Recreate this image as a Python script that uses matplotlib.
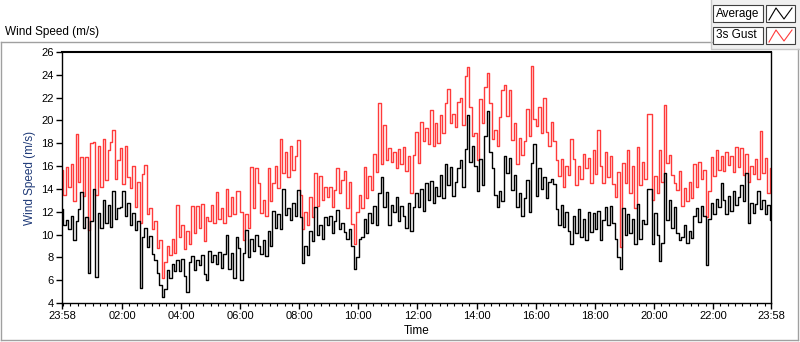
import matplotlib.pyplot as plt
from matplotlib.patches import Rectangle
from matplotlib.lines import Line2D

plt.rcParams['font.family'] = ['Liberation Sans', 'DejaVu Sans']

# 5-minute samples from 23:58 to 23:58 next day (12 per hour, + end point)
avg = [
    12.2, 10.8, 11.3, 10.5, 11.6, 9.5, 11.2, 12.2, 13.7, 10.6, 11.5, 6.6,
    11.2, 14.0, 6.3, 11.9, 10.6, 13.0, 11.0, 12.6, 10.7, 13.8, 11.4, 12.3,
    12.4, 13.8, 11.6, 12.8, 10.8, 11.9, 10.4, 11.2, 5.3, 9.8, 10.6, 8.9,
    9.9, 8.3, 7.8, 6.6, 5.6, 4.5, 5.2, 6.9, 6.2, 7.4, 6.8, 7.8,
    6.8, 7.9, 6.4, 5.0, 7.6, 8.1, 6.9, 7.8, 7.3, 8.2, 6.5, 6.0,
    8.6, 7.6, 8.2, 7.4, 8.5, 7.1, 8.3, 10.0, 7.0, 8.4, 6.2, 9.8,
    8.8, 6.0, 8.4, 10.4, 8.0, 9.6, 8.6, 10.0, 9.0, 8.3, 9.5, 8.1,
    10.3, 9.0, 12.1, 10.6, 11.8, 10.5, 14.0, 11.7, 12.3, 11.3, 12.8, 11.6,
    13.9, 11.5, 7.5, 9.0, 8.2, 10.3, 9.4, 12.4, 10.0, 10.8, 9.6, 11.5,
    10.8, 11.6, 10.1, 11.2, 12.15, 10.5, 11.0, 10.2, 9.6, 10.5, 9.0, 7.0,
    8.0, 9.6, 9.8, 11.4, 10.1, 11.9, 11.0, 12.5, 10.8, 13.6, 15.0, 12.4,
    13.7, 10.8, 12.6, 12.0, 13.3, 11.2, 12.5, 11.6, 10.6, 12.8, 10.3, 12.4,
    13.6, 12.4, 14.0, 12.1, 14.5, 13.0, 14.7, 12.8, 14.2, 13.4, 15.2, 13.2,
    16.2, 14.3, 15.9, 13.4, 14.6, 15.8, 16.5, 14.2, 17.5, 20.5, 16.4, 17.8,
    16.0, 13.8, 16.6, 14.3, 18.6, 20.8, 17.2, 15.8, 13.5, 12.4, 13.8, 12.9,
    16.9, 15.4, 16.7, 13.9, 15.2, 12.4, 13.6, 11.6, 13.2, 14.8, 12.0, 16.3,
    17.9, 13.4, 15.8, 14.0, 15.0, 13.2, 14.6, 14.9, 14.4, 12.2, 10.8, 12.6,
    10.7, 12.0, 10.3, 9.2, 11.6, 10.1, 12.2, 9.8, 11.4, 9.5, 12.0, 10.2,
    11.9, 10.5, 12.1, 9.5, 11.3, 12.4, 10.8, 12.5, 11.0, 9.6, 8.0, 7.0,
    12.3, 10.0, 11.8, 10.1, 11.4, 9.2, 12.7, 9.6, 11.3, 10.9, 14.0, 14.0,
    9.2, 11.9, 10.0, 7.7, 9.3, 15.4, 11.3, 13.0, 10.6, 12.4, 10.1, 9.5,
    9.8, 10.8, 9.3, 10.3, 9.7, 11.6, 12.3, 11.1, 12.5, 11.6, 7.3, 11.4,
    12.8, 11.8, 13.1, 12.4, 14.5, 13.0, 11.8, 13.4, 12.1, 13.8, 12.6, 13.3,
    14.3, 12.9, 15.4, 11.0, 12.8, 11.9, 12.7, 13.8, 12.2, 13.0, 11.8, 12.6,
    11.3,
]

gust = [
    15.7, 13.5, 15.9, 14.2, 16.2, 12.9, 18.8, 14.6, 16.8, 13.4, 16.8, 10.4,
    18.0, 18.1, 13.5, 17.8, 14.2, 18.4, 14.8, 17.4, 18.1, 19.2, 14.9, 16.5,
    17.6, 14.4, 17.8, 15.0, 14.1, 16.0, 12.4, 14.6, 11.0, 15.3, 16.1, 11.8,
    12.3, 10.5, 11.2, 8.8, 9.5, 6.2, 7.6, 9.0, 8.2, 9.6, 8.4, 12.6,
    9.8, 10.8, 8.7, 10.3, 9.2, 12.5, 10.1, 12.5, 10.6, 12.7, 9.4, 11.5,
    11.2, 12.6, 11.0, 13.75, 11.4, 12.3, 11.0, 14.0, 11.6, 13.3, 11.8, 13.8,
    13.8, 12.0, 9.5, 11.8, 10.6, 15.9, 12.3, 15.8, 14.5, 11.9, 13.0, 11.6,
    15.8, 12.9, 14.5, 16.0, 14.1, 18.4, 15.4, 17.2, 15.0, 17.8, 15.7, 16.9,
    18.3, 13.5, 10.5, 12.0, 10.8, 13.3, 11.5, 15.4, 12.5, 15.1, 13.0, 14.2,
    13.3, 14.2, 12.4, 13.9, 15.8, 13.6, 14.8, 15.6, 12.3, 14.6, 10.9, 9.2,
    12.0, 13.5, 12.3, 15.9, 13.2, 15.1, 13.9, 17.1, 15.5, 21.5, 16.2, 19.6,
    16.5, 17.6, 16.4, 17.2, 15.8, 17.5, 16.2, 17.7, 15.6, 16.9, 13.6, 17.0,
    19.0, 16.3, 19.9, 18.2, 19.3, 17.9, 20.9, 17.8, 19.8, 18.0, 20.5, 18.9,
    21.5, 22.8, 19.8, 20.6, 19.4, 21.6, 22.0, 19.6, 23.9, 24.7, 21.2, 18.6,
    18.9, 16.5, 21.9, 19.8, 22.9, 24.2, 21.5, 18.4, 19.2, 17.8, 20.3, 22.7,
    23.1, 20.4, 22.7, 18.3, 19.8, 16.2, 18.5, 17.0, 18.2, 21.0, 18.6, 24.8,
    20.1, 19.5, 21.2, 18.9, 22.0, 19.0, 17.8, 19.9, 18.2, 16.5, 15.1, 16.6,
    14.2, 16.0, 15.2, 18.4, 16.6, 14.3, 16.0, 14.9, 17.1, 15.8, 16.7, 14.5,
    17.4, 15.3, 19.2, 16.0, 14.5, 17.2, 15.0, 16.9, 14.4, 13.3, 15.5, 8.9,
    16.3, 14.5, 17.4, 13.6, 16.0, 12.3, 17.7, 14.3, 16.4, 14.9, 20.6, 20.6,
    13.0, 15.1, 13.6, 17.4, 14.6, 21.35, 16.3, 17.0, 15.2, 14.5, 13.9, 15.6,
    12.5, 14.1, 12.9, 14.6, 13.2, 16.2, 14.2, 16.4, 14.9, 15.7, 11.5, 13.8,
    16.8, 15.1, 17.4, 15.7, 16.9, 15.6, 17.2, 16.1, 16.9, 15.5, 17.7, 15.9,
    17.6, 15.2, 17.1, 14.6, 16.0, 15.3, 16.6, 14.9, 19.1, 15.4, 16.7, 13.6,
    15.8,
]

start = -2 / 60  # 23:58 on the previous day, in clock hours
times = [start + k * 5 / 60 for k in range(len(avg))]

major_ticks = [start] + list(range(2, 24, 2)) + [24 + start]
major_labels = ['23:58'] + ['%02d:00' % h for h in range(2, 24, 2)] + ['23:58']
minor_ticks = [q * 0.25 for q in range(96)]
y_ticks = list(range(4, 27, 2))

W, H = 800, 342


def fx(x):
    return x / W


def fy(y):
    return 1 - y / H


fig = plt.figure(figsize=(8, 3.42), dpi=100)
fig.patch.set_facecolor('white')

# outer frame and legend panel
fig.add_artist(Line2D([fx(0.5), fx(712)], [fy(42), fy(42)], color='#a0a0a0', lw=1))
fig.add_artist(Line2D([fx(0.5), fx(0.5)], [fy(42), fy(340)], color='#a0a0a0', lw=1))
fig.add_artist(Line2D([fx(0.5), fx(798)], [fy(340), fy(340)], color='#a0a0a0', lw=1))
fig.add_artist(Line2D([fx(798), fx(798)], [fy(49), fy(340)], color='#a0a0a0', lw=1))
fig.add_artist(Rectangle((fx(711), fy(49)), fx(800) - fx(711), fy(0) - fy(49),
                         transform=fig.transFigure, facecolor='#f0f0f0',
                         edgecolor='none'))
fig.add_artist(Line2D([fx(711), fx(711), fx(800)], [fy(0), fy(49), fy(49)],
                      color='#c8c8c8', lw=1))

fig.text(fx(5), fy(32), 'Wind Speed (m/s)', fontsize=8.5, va='center', ha='left')

for row, (name, col) in enumerate([('Average', 'black'), ('3s Gust', '#ff3b3b')]):
    top = 5 + row * 22
    fig.add_artist(Rectangle((fx(713), fy(top + 17)), fx(763) - fx(713), fy(top) - fy(top + 17),
                             transform=fig.transFigure, facecolor='white',
                             edgecolor='#404040', lw=0.8))
    fig.text(fx(716), fy(top + 8.5), name, fontsize=8.5, va='center', ha='left')
    fig.add_artist(Rectangle((fx(766), fy(top + 17)), fx(795) - fx(766), fy(top) - fy(top + 17),
                             transform=fig.transFigure, facecolor='white',
                             edgecolor='#404040', lw=0.8))
    zx = [fx(769), fx(776), fx(784), fx(792)]
    zy = [fy(top + 15), fy(top + 3), fy(top + 14), fy(top + 3)]
    fig.add_artist(Line2D(zx, zy, color=col, lw=0.8))

ax = fig.add_axes([fx(62), fy(303), fx(771) - fx(62), fy(52) - fy(303)])
ax.plot(times, gust, color='#ff3b3b', lw=1, drawstyle='steps-mid')
ax.plot(times, avg, color='black', lw=1, drawstyle='steps-mid')

ax.set_xlim(start, 24 + start)
ax.set_ylim(4, 26)
ax.set_xticks(major_ticks)
ax.set_xticklabels(major_labels)
ax.set_xticks(minor_ticks, minor=True)
ax.set_yticks(y_ticks)
ax.tick_params(axis='both', which='major', direction='out', length=4, width=1,
               labelsize=8, pad=2)
ax.tick_params(axis='x', which='minor', direction='out', length=2.5, width=0.8)
for s in ax.spines.values():
    s.set_color('black')
    s.set_linewidth(1)
ax.spines['top'].set_linewidth(1.5)

ax.set_xlabel('Time', fontsize=8.5, labelpad=3)
ax.set_ylabel('Wind Speed (m/s)', fontsize=8.5, color='#1f3a78', labelpad=4)

plt.savefig('out.png', dpi=100)
